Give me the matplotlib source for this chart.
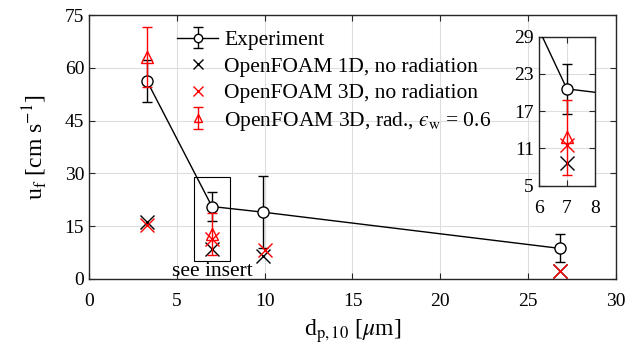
import numpy as np
import matplotlib.pyplot as plt
from matplotlib.patches import Rectangle

plt.rcParams['font.family'] = ['Liberation Serif', 'DejaVu Serif']
plt.rcParams['mathtext.fontset'] = 'stix'

# flame speed vs. mean particle diameter
d_exp = [3.3, 7.0, 9.9, 26.8]
u_exp = [56.3, 20.6, 19.0, 8.7]
u_exp_err = [6.0, 4.0, 10.2, 4.0]

d_1d = [3.3, 7.0, 9.9, 26.8]
u_1d = [16.2, 8.6, 6.4, 2.2]

d_3d = [3.3, 7.0, 10.0, 26.8]
u_3d = [15.4, 11.5, 8.3, 2.2]

d_rad = [3.3, 7.0]
u_rad = [63.0, 12.8]
u_rad_err = [8.5, 6.0]

axcol = '#262626'
gridcol = '#dedede'


def draw_series(ax, ms_scale=1.0):
    h1 = ax.errorbar(d_exp, u_exp, yerr=u_exp_err, color='k', lw=1, marker='o',
                     ms=8 * ms_scale, mfc='white', mec='k', capsize=3.5, elinewidth=1,
                     zorder=3)
    h2, = ax.plot(d_1d, u_1d, 'x', color='k', ms=10 * ms_scale, mew=1, zorder=4)
    h3, = ax.plot(d_3d, u_3d, 'x', color='red', ms=10 * ms_scale, mew=1, zorder=4)
    h4 = ax.errorbar(d_rad, u_rad, yerr=u_rad_err, color='red', ls='none', marker='^',
                     ms=8 * ms_scale, mfc='none', mec='red', capsize=3.5, elinewidth=1,
                     zorder=5)
    return h1, h2, h3, h4


def style_axes(ax, size):
    ax.grid(True, color=gridcol, lw=0.8)
    ax.set_axisbelow(True)
    ax.tick_params(direction='in', top=True, right=True, length=4, width=0.8,
                   color=axcol, labelsize=size, labelcolor='k')
    ax.tick_params(axis='x', pad=10)
    for s in ax.spines.values():
        s.set_color(axcol)
        s.set_linewidth(1)


fig = plt.figure(figsize=(6.43, 3.52), dpi=100)
ax = fig.add_axes([0.1384, 0.2074, 0.8196, 0.7496])
handles = draw_series(ax)
ax.set_xlim(0, 30)
ax.set_ylim(0, 75)
ax.set_xticks([0, 5, 10, 15, 20, 25, 30])
ax.set_yticks([0, 15, 30, 45, 60, 75])
style_axes(ax, 14)
ax.set_xlabel(r'd$_\mathrm{p,10}$ [$\mu$m]', fontsize=17, labelpad=5)
ax.set_ylabel(r'u$_\mathrm{f}$ [cm s$^\mathrm{-1}$]', fontsize=17, labelpad=11)

ax.add_patch(Rectangle((6, 5), 2, 24, fill=False, ec='k', lw=0.8, zorder=6))
ax.text(7, 2.2, 'see insert', ha='center', va='center', fontsize=15.5, zorder=7)

labels = ['Experiment', 'OpenFOAM 1D, no radiation', 'OpenFOAM 3D, no radiation',
          'OpenFOAM 3D, rad., $\u03f5_\\mathrm{w}$ = 0.6']
ax.legend(handles, labels, loc='upper left', bbox_to_anchor=(0.155, 0.968),
          frameon=False, fontsize=15.5, handlelength=1.9, handletextpad=0.3,
          labelspacing=0.3, borderpad=0.3, borderaxespad=0, markerscale=0.75)

# zoomed view around d = 7 um
axi = fig.add_axes([0.8378, 0.4724, 0.0876, 0.4233])
draw_series(axi)
axi.set_xlim(6, 8)
axi.set_ylim(5, 29)
axi.set_xticks([6, 7, 8])
axi.set_yticks([5, 11, 17, 23, 29])
style_axes(axi, 14)

fig.savefig('out.png', dpi=100)
